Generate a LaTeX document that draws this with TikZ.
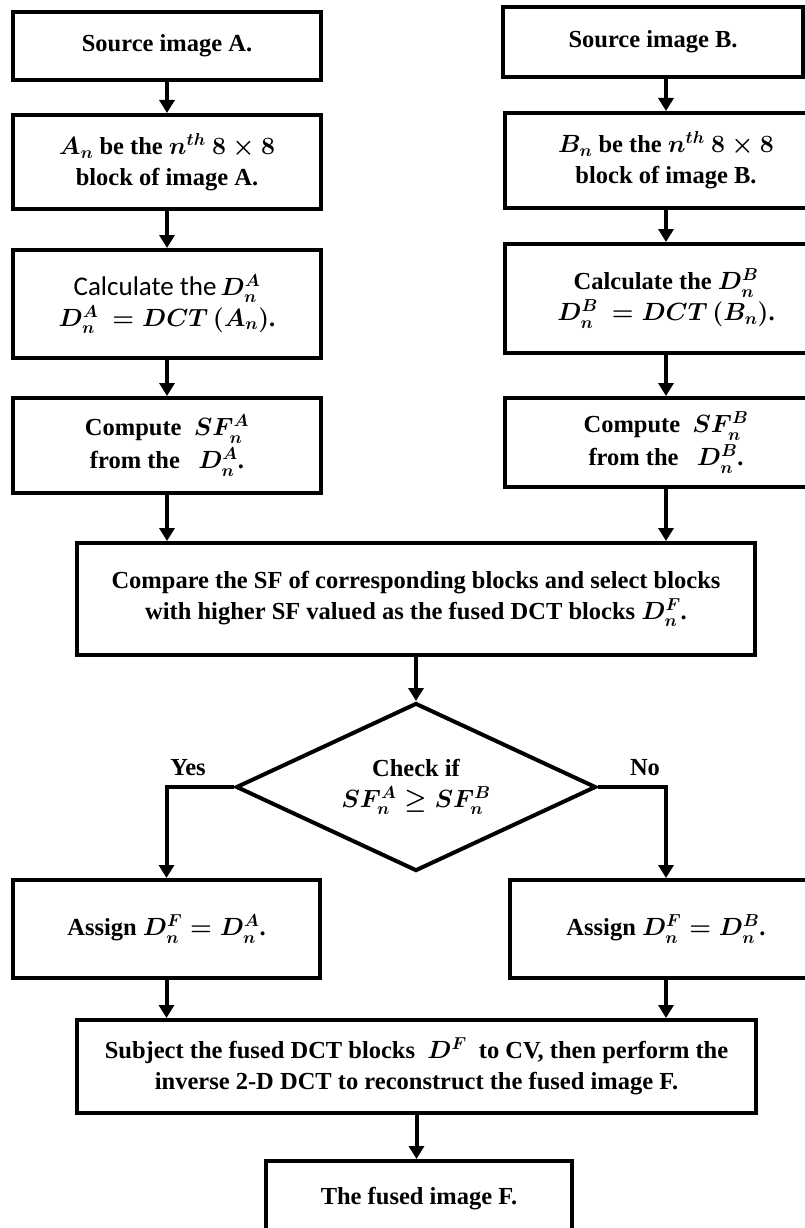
\documentclass[tikz,border=0pt]{standalone}
\usepackage{fontspec}
\setmainfont{Liberation Serif}
\newfontfamily\calfont{Carlito}
\usetikzlibrary{arrows.meta,shapes.geometric}
\newcommand{\boxfont}{\fontsize{24.5}{31}\selectfont\bfseries\boldmath}
\newcommand{\lightsans}{\calfont\mdseries\fontsize{27}{31}\selectfont}

\begin{document}
\begin{tikzpicture}[x=1pt,y=-1pt,
  box/.style={draw, line width=4pt, align=center, inner sep=0pt, font=\boxfont},
  decision/.style={draw, diamond, line width=4pt, align=center, inner sep=0pt, font=\boxfont},
  arr/.style={line width=4pt, -{Triangle[length=13pt,width=15pt]}},
  lbl/.style={font=\boxfont, inner sep=0pt}]
\useasboundingbox (0,0) rectangle (805,1228);

% left column: image A
\node[box, minimum width=308pt, minimum height=68pt] (srcA) at (167,46) {Source image A.};
\node[box, minimum width=308pt, minimum height=94pt] (anA) at (167,162)
  {$A_n$ be the $n^{th}$ $\mathbf{8\times 8}$\\block of image A.};
\node[box, minimum width=308pt, minimum height=108pt] (calcA) at (167,304)
  {{\lightsans Calculate the}\,$D^A_n$\\$D^A_n\ =DCT\,(A_n)$.};
\node[box, minimum width=308pt, minimum height=95pt] (cmpA) at (167,445.5)
  {Compute \ $SF^A_n$\\[2pt]from the \ \ $D^A_n$.};

% right column: image B
\node[box, minimum width=300pt, minimum height=70pt] (srcB) at (653,42) {Source image B.};
\node[box, minimum width=322pt, minimum height=95pt] (bnB) at (666,160.5)
  {$B_n$ be the $n^{th}$ $\mathbf{8\times 8}$\\block of image B.};
\node[box, minimum width=322pt, minimum height=109pt] (calcB) at (666,298.5)
  {Calculate the $D^B_n$\\$D^B_n\ =DCT\,(B_n)$.};
\node[box, minimum width=322pt, minimum height=89pt] (cmpB) at (666,442.5)
  {Compute \ $SF^B_n$\\[2pt]from the \ \ $D^B_n$.};

% fusion rule
\node[box, minimum width=678pt, minimum height=112pt] (compare) at (416,599)
  {Compare the SF of corresponding blocks and select blocks\\with higher SF valued as the fused DCT blocks $D^F_n$.};
\node[decision, minimum width=360pt, minimum height=168pt, aspect=2.14] (check) at (416,787)
  {Check if\\$SF^A_n \geq SF^B_n$};
\node[lbl] (yes) at (188,768) {Yes};
\node[lbl] (no) at (645,768) {No};

\node[box, minimum width=307pt, minimum height=98pt] (asgA) at (166.5,929)
  {Assign $D^F_n=D^A_n$.};
\node[box, minimum width=312pt, minimum height=98pt] (asgB) at (666,929)
  {Assign $D^F_n=D^B_n$.};

\node[box, minimum width=679pt, minimum height=93pt] (subj) at (416.5,1066.5)
  {Subject the fused DCT blocks \ $D^F$ \ to CV, then perform the\\inverse 2-D DCT to reconstruct the fused image F.};
\node[box, minimum width=306pt, minimum height=75pt] (final) at (419,1198.5)
  {The fused image F.};

% connectors
\draw[arr] (srcA) -- (anA);
\draw[arr] (anA) -- (calcA);
\draw[arr] (calcA) -- (cmpA);
\draw[arr] (srcB.south -| bnB.north) -- (bnB.north);
\draw[arr] (bnB) -- (calcB);
\draw[arr] (calcB) -- (cmpB);
\draw[arr] (cmpA.south) -- (compare.north -| cmpA.south);
\draw[arr] (cmpB.south) -- (compare.north -| cmpB.south);
\draw[arr] (compare) -- (check);
\draw[arr] (check.west) -- (check.west -| asgA.north) -- (asgA.north);
\draw[arr] (check.east) -- (check.east -| asgB.north) -- (asgB.north);
\draw[arr] (asgA.south) -- (subj.north -| asgA.south);
\draw[arr] (asgB.south) -- (subj.north -| asgB.south);
\draw[arr] (subj.south) -- (subj.south |- final.north);
\end{tikzpicture}
\end{document}
